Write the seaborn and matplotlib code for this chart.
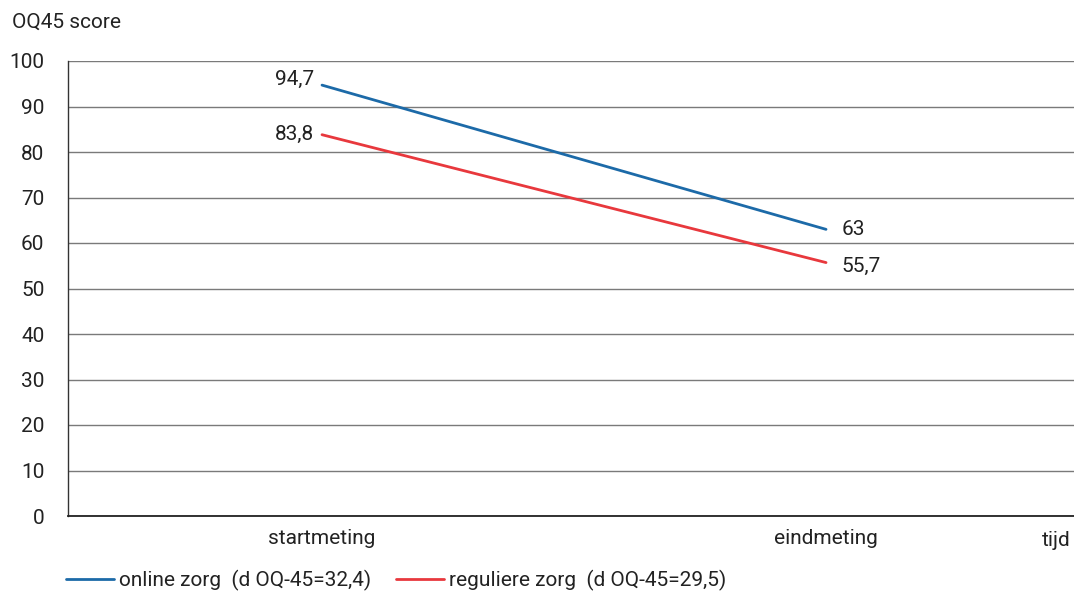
import pandas as pd
import numpy as np
import matplotlib.pyplot as plt
import seaborn as sns

sns.set_theme(style='white')
plt.rcParams['font.family'] = ['Roboto', 'DejaVu Sans']

momenten = ['startmeting', 'eindmeting']
online = [94.7, 63.0]
regulier = [83.8, 55.7]
online_lbl = ['94,7', '63']
regulier_lbl = ['83,8', '55,7']
groepen = ['online zorg  (d OQ-45=32,4)', 'reguliere zorg  (d OQ-45=29,5)']
yticks = [0, 10, 20, 30, 40, 50, 60, 70, 80, 90, 100]

d = pd.DataFrame({
    'x': [0, 1, 0, 1],
    'score': online + regulier,
    'groep': [groepen[0]] * 2 + [groepen[1]] * 2,
})

fs = 15
fig = plt.figure(figsize=(10.74, 5.93), dpi=100)
ax = fig.add_axes([68/1074, 1 - 516/593, 1 - 68/1074, (516 - 61)/593])

sns.lineplot(data=d, x='x', y='score', hue='groep',
             palette=['#1c6aa8', '#e8383d'], linewidth=2, ax=ax)

# labels next to the line ends
txt = dict(fontsize=fs, color='#222222', va='center')
ax.annotate(online_lbl[0], (0, online[0]), xytext=(-6, 4), textcoords='offset points', ha='right', **txt)
ax.annotate(regulier_lbl[0], (0, regulier[0]), xytext=(-6, 0), textcoords='offset points', ha='right', **txt)
ax.annotate(online_lbl[1], (1, online[1]), xytext=(11, 0), textcoords='offset points', ha='left', **txt)
ax.annotate(regulier_lbl[1], (1, regulier[1]), xytext=(11, -3), textcoords='offset points', ha='left', **txt)

ax.set_xlim(-0.504, 1.492)
ax.set_ylim(0, 100)
ax.set_yticks(yticks)
ax.set_yticklabels([str(t) for t in yticks], fontsize=fs, color='#222222')
ax.set_xticks([0, 1])
ax.set_xticklabels(momenten, fontsize=fs, color='#222222')
ax.set_xticks([0.5], minor=True)
ax.tick_params(axis='x', which='major', length=0, pad=9)
ax.tick_params(axis='x', which='minor', length=7, direction='in', color='#555555', width=0.8)
ax.tick_params(axis='y', length=0, pad=17)

ax.yaxis.grid(True, color='#7a7a7a', linewidth=1)
ax.set_axisbelow(True)
for s in ['top', 'right']:
    ax.spines[s].set_visible(False)
ax.spines['left'].set_color('#333333')
ax.spines['bottom'].set_color('#222222')
ax.spines['left'].set_linewidth(1)
ax.spines['bottom'].set_linewidth(1.3)

ax.set_xlabel('')
ax.set_ylabel('')
fig.text(12/1074, 1 - 22/593, 'OQ45 score', fontsize=fs, va='center', ha='left', color='#222222')
fig.text(1071/1074, 1 - 540/593, 'tijd', fontsize=fs, va='center', ha='right', color='#222222')

ax.legend(loc='center left', bbox_to_anchor=(-0.002, -(580 - 516)/455),
          ncol=2, frameon=False, fontsize=fs, handlelength=2.3, handletextpad=0.25,
          columnspacing=1.2, borderaxespad=0, borderpad=0, labelcolor='#222222')

fig.savefig('out.png', dpi=100)
